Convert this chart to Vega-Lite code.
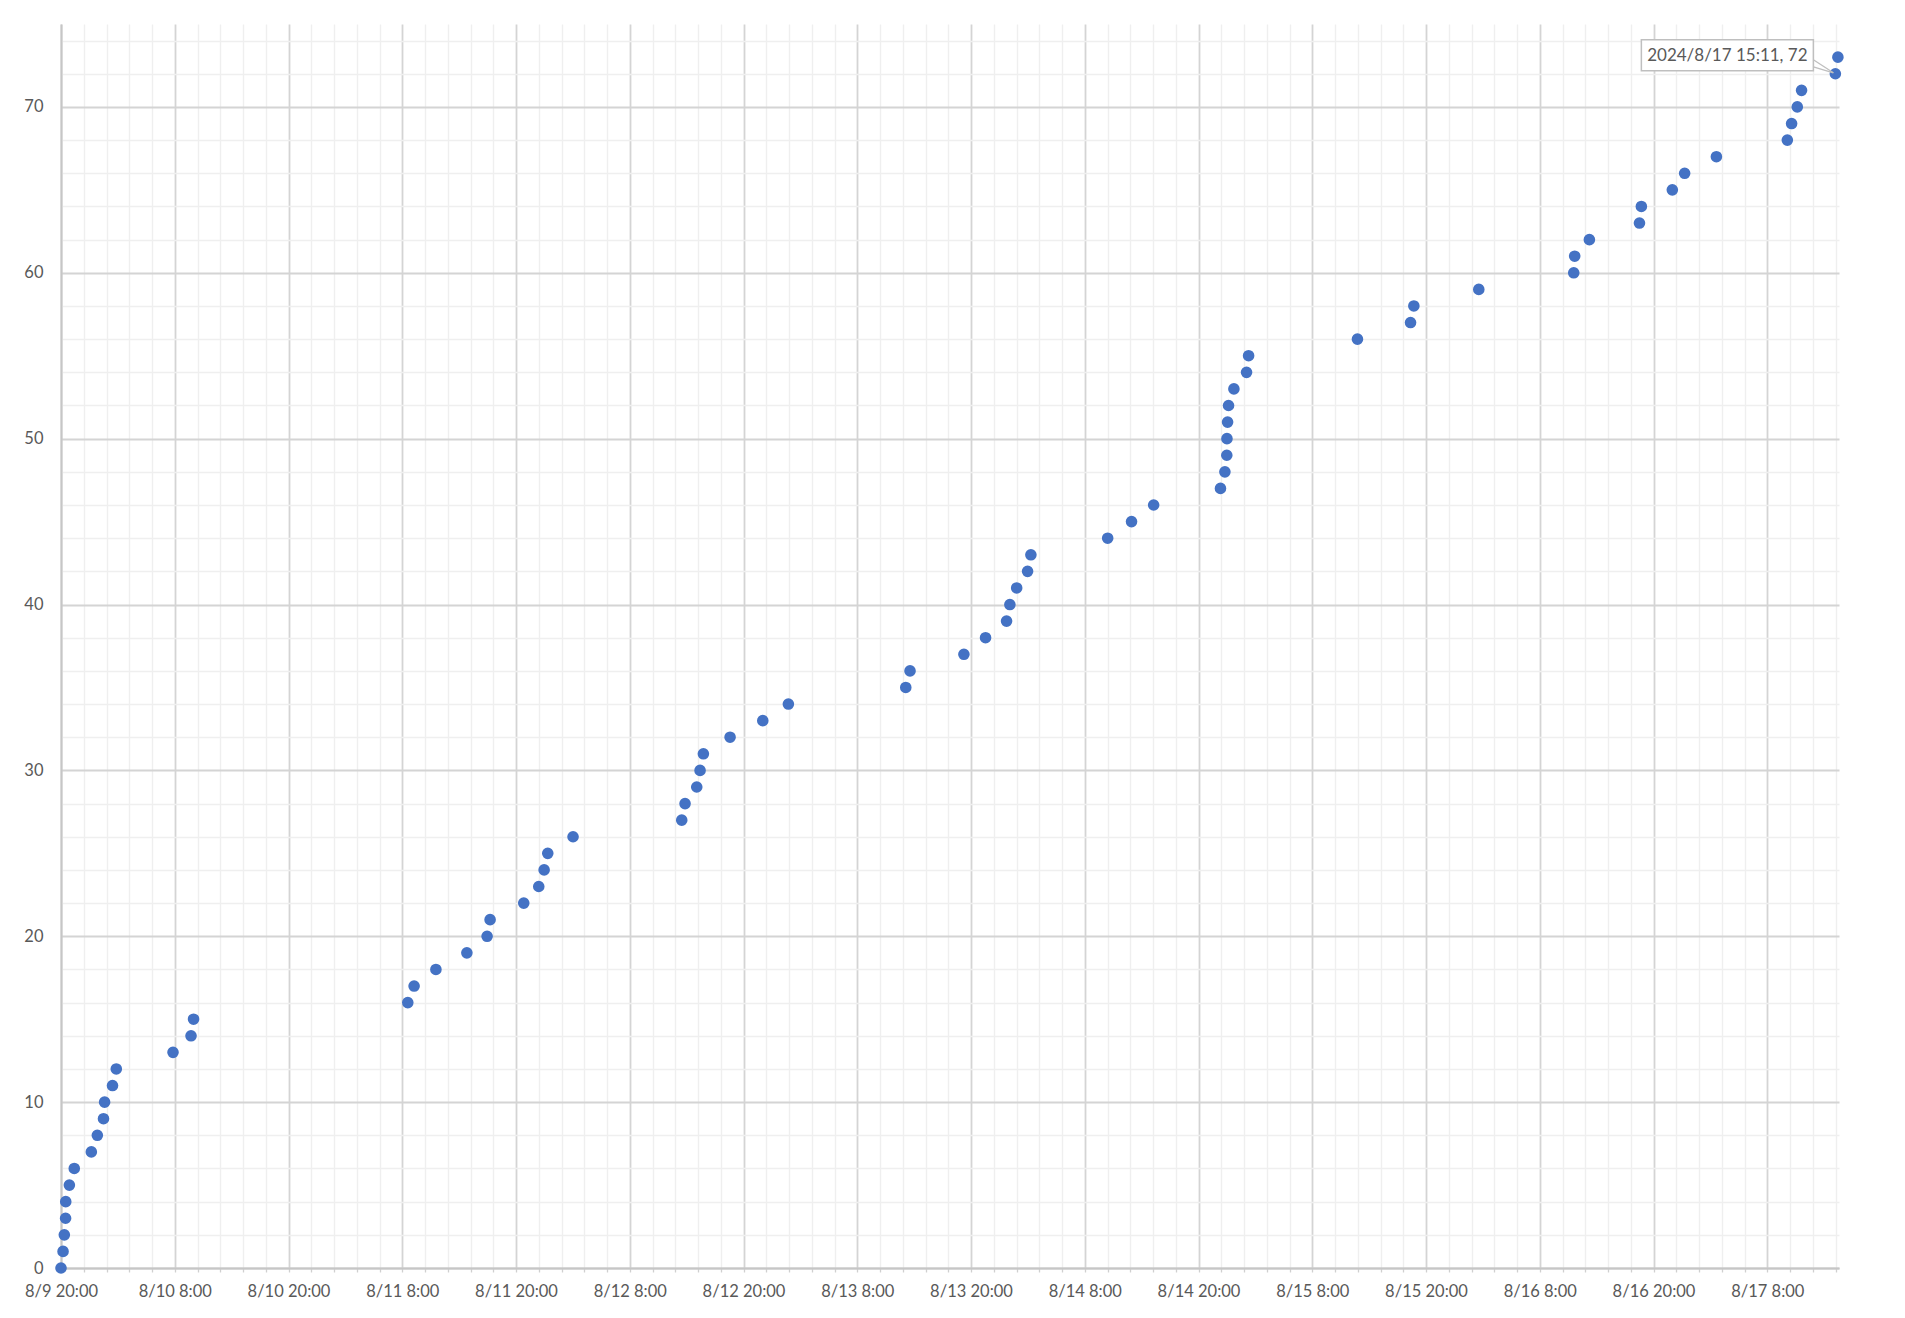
{
  "$schema": "https://vega.github.io/schema/vega-lite/v6.json",
  "width": 1778,
  "height": 1244,
  "autosize": {"type": "none"},
  "padding": {"left": 61, "top": 24, "right": 66, "bottom": 50},
  "background": "white",
  "config": {
    "view": {"stroke": null},
    "font": "Lato",
    "axis": {"labelFont": "Lato", "labelColor": "#595959", "labelFontSize": 16.5, "domainColor": "#c6c6c6", "domainWidth": 2, "title": null}
  },
  "datasets": {
    "points": [
      {"t": "2024-08-09T20:00:00", "v": 0},
      {"t": "2024-08-09T20:13:00", "v": 1},
      {"t": "2024-08-09T20:21:00", "v": 2},
      {"t": "2024-08-09T20:29:00", "v": 3},
      {"t": "2024-08-09T20:30:00", "v": 4},
      {"t": "2024-08-09T20:53:00", "v": 5},
      {"t": "2024-08-09T21:24:00", "v": 6},
      {"t": "2024-08-09T23:12:00", "v": 7},
      {"t": "2024-08-09T23:50:00", "v": 8},
      {"t": "2024-08-10T00:29:00", "v": 9},
      {"t": "2024-08-10T00:36:00", "v": 10},
      {"t": "2024-08-10T01:26:00", "v": 11},
      {"t": "2024-08-10T01:50:00", "v": 12},
      {"t": "2024-08-10T07:49:00", "v": 13},
      {"t": "2024-08-10T09:43:00", "v": 14},
      {"t": "2024-08-10T09:59:00", "v": 15},
      {"t": "2024-08-11T08:35:00", "v": 16},
      {"t": "2024-08-11T09:15:00", "v": 17},
      {"t": "2024-08-11T11:33:00", "v": 18},
      {"t": "2024-08-11T14:49:00", "v": 19},
      {"t": "2024-08-11T16:57:00", "v": 20},
      {"t": "2024-08-11T17:16:00", "v": 21},
      {"t": "2024-08-11T20:49:00", "v": 22},
      {"t": "2024-08-11T22:24:00", "v": 23},
      {"t": "2024-08-11T22:58:00", "v": 24},
      {"t": "2024-08-11T23:21:00", "v": 25},
      {"t": "2024-08-12T02:01:00", "v": 26},
      {"t": "2024-08-12T13:29:00", "v": 27},
      {"t": "2024-08-12T13:50:00", "v": 28},
      {"t": "2024-08-12T15:04:00", "v": 29},
      {"t": "2024-08-12T15:25:00", "v": 30},
      {"t": "2024-08-12T15:46:00", "v": 31},
      {"t": "2024-08-12T18:35:00", "v": 32},
      {"t": "2024-08-12T22:02:00", "v": 33},
      {"t": "2024-08-13T00:44:00", "v": 34},
      {"t": "2024-08-13T13:07:00", "v": 35},
      {"t": "2024-08-13T13:34:00", "v": 36},
      {"t": "2024-08-13T19:15:00", "v": 37},
      {"t": "2024-08-13T21:32:00", "v": 38},
      {"t": "2024-08-13T23:45:00", "v": 39},
      {"t": "2024-08-14T00:06:00", "v": 40},
      {"t": "2024-08-14T00:49:00", "v": 41},
      {"t": "2024-08-14T01:58:00", "v": 42},
      {"t": "2024-08-14T02:19:00", "v": 43},
      {"t": "2024-08-14T10:25:00", "v": 44},
      {"t": "2024-08-14T12:56:00", "v": 45},
      {"t": "2024-08-14T15:16:00", "v": 46},
      {"t": "2024-08-14T22:19:00", "v": 47},
      {"t": "2024-08-14T22:47:00", "v": 48},
      {"t": "2024-08-14T22:59:00", "v": 49},
      {"t": "2024-08-14T23:00:00", "v": 50},
      {"t": "2024-08-14T23:04:00", "v": 51},
      {"t": "2024-08-14T23:10:00", "v": 52},
      {"t": "2024-08-14T23:44:00", "v": 53},
      {"t": "2024-08-15T01:04:00", "v": 54},
      {"t": "2024-08-15T01:17:00", "v": 55},
      {"t": "2024-08-15T12:46:00", "v": 56},
      {"t": "2024-08-15T18:22:00", "v": 57},
      {"t": "2024-08-15T18:43:00", "v": 58},
      {"t": "2024-08-16T01:34:00", "v": 59},
      {"t": "2024-08-16T11:35:00", "v": 60},
      {"t": "2024-08-16T11:41:00", "v": 61},
      {"t": "2024-08-16T13:14:00", "v": 62},
      {"t": "2024-08-16T18:31:00", "v": 63},
      {"t": "2024-08-16T18:43:00", "v": 64},
      {"t": "2024-08-16T21:59:00", "v": 65},
      {"t": "2024-08-16T23:17:00", "v": 66},
      {"t": "2024-08-17T02:38:00", "v": 67},
      {"t": "2024-08-17T10:07:00", "v": 68},
      {"t": "2024-08-17T10:34:00", "v": 69},
      {"t": "2024-08-17T11:10:00", "v": 70},
      {"t": "2024-08-17T11:37:00", "v": 71},
      {"t": "2024-08-17T15:11:00", "v": 72},
      {"t": "2024-08-17T15:27:00", "v": 73}
    ],
    "callout": [
      {"t": "2024-08-17T15:11:00", "v": 72, "label": "2024/8/17 15:11, 72"}
    ]
  },
  "encoding": {
    "x": {
      "field": "t",
      "type": "temporal",
      "scale": {
        "domain": [
          {"year": 2024, "month": 8, "date": 9, "hours": 20, "minutes": 0},
          {"year": 2024, "month": 8, "date": 17, "hours": 15, "minutes": 34}
        ],
        "nice": false
      },
      "axis": {
        "values": {"expr": "sequence(datetime(2024,7,9,20,0), datetime(2024,7,17,15,35), 8640000)"},
        "labelExpr": "abs((datum.value - datetime(2024,7,9,20,0)) % 43200000) < 1000 ? timeFormat(datum.value, '%-m/%-d %-H:%M') : ''",
        "labelOverlap": false,
        "labelBound": false,
        "labelFlush": false,
        "labelPadding": 11,
        "ticks": true,
        "tickSize": 4,
        "tickColor": "#d0d0d0",
        "tickWidth": 1.3,
        "grid": true,
        "gridColor": {
          "condition": {"test": "abs((datum.value - datetime(2024,7,9,20,0)) % 43200000) < 1000", "value": "#d4d4d4"},
          "value": "#efefef"
        },
        "gridWidth": {
          "condition": {"test": "abs((datum.value - datetime(2024,7,9,20,0)) % 43200000) < 1000", "value": 1.8},
          "value": 1.4
        }
      }
    },
    "y": {
      "field": "v",
      "type": "quantitative",
      "scale": {"domain": [0, 75], "nice": false, "zero": true},
      "axis": {
        "values": [0, 2, 4, 6, 8, 10, 12, 14, 16, 18, 20, 22, 24, 26, 28, 30, 32, 34, 36, 38, 40, 42, 44, 46, 48, 50, 52, 54, 56, 58, 60, 62, 64, 66, 68, 70, 72, 74],
        "labelExpr": "datum.value % 10 === 0 ? datum.label : ''",
        "labelOverlap": false,
        "labelBound": false,
        "labelFlush": false,
        "ticks": false,
        "tickSize": 0,
        "labelPadding": 18,
        "grid": true,
        "gridColor": {
          "condition": {"test": "datum.value % 10 === 0", "value": "#d4d4d4"},
          "value": "#efefef"
        },
        "gridWidth": {
          "condition": {"test": "datum.value % 10 === 0", "value": 1.8},
          "value": 1.4
        }
      }
    }
  },
  "layer": [
    {
      "data": {"name": "points"},
      "mark": {"type": "circle", "size": 135, "color": "#4472C4", "opacity": 1}
    },
    {
      "data": {"name": "callout"},
      "mark": {"type": "rule", "color": "#bfbfbf", "strokeWidth": 1.3, "xOffset": -22, "yOffset": -14, "x2Offset": -2, "y2Offset": -1},
      "encoding": {"x2": {"field": "t"}, "y2": {"field": "v"}}
    },
    {
      "data": {"name": "callout"},
      "mark": {"type": "rule", "color": "#bfbfbf", "strokeWidth": 1.3, "xOffset": -22, "yOffset": -7, "x2Offset": -2, "y2Offset": -1},
      "encoding": {"x2": {"field": "t"}, "y2": {"field": "v"}}
    },
    {
      "data": {"name": "callout"},
      "mark": {"type": "rect", "fill": "white", "stroke": "#bfbfbf", "strokeWidth": 1.5, "xOffset": -194, "x2Offset": -22, "yOffset": -34, "y2Offset": -3},
      "encoding": {"x2": {"field": "t"}, "y2": {"field": "v"}}
    },
    {
      "data": {"name": "callout"},
      "mark": {"type": "text", "font": "Lato", "fontSize": 17, "color": "#595959", "align": "center", "baseline": "middle", "dx": -108, "dy": -18},
      "encoding": {"text": {"field": "label"}}
    }
  ]
}
